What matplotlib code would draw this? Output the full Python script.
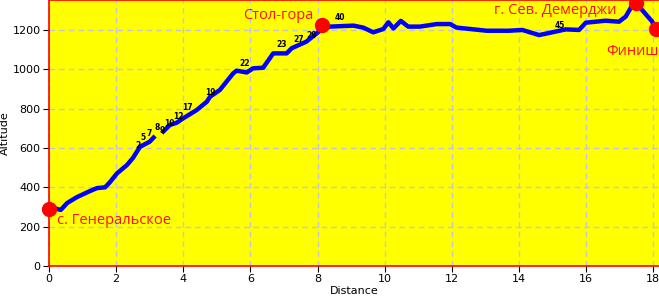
import numpy as np
import matplotlib
matplotlib.use("Agg")
import matplotlib.pyplot as plt

# Profile data (km, m)
dist = [0.0, 0.2, 0.35, 0.54, 0.83, 1.22, 1.43, 1.67, 1.82, 2.02, 2.32, 2.5, 2.71, 3.0, 3.16,
        np.nan,
        3.36, 3.6, 3.8, 4.0, 4.4, 4.7, 4.8, 5.09, 5.49, 5.59, 5.89, 6.08, 6.38, 6.68, 7.08,
        7.23, 7.67, 8.07, 8.37, 9.07, 9.36, 9.66, 9.96, 10.11, 10.26, 10.48, 10.7, 11.05,
        11.55, 11.95, 12.14, 12.54, 13.04, 13.7, 14.1, 14.6, 14.99, 15.39, 15.79, 15.99,
        16.58, 16.98, 17.18, 17.38, 17.48, 17.67, 17.97, 18.07]
alt = [290, 292, 285, 320, 350, 381, 396, 400, 427, 470, 513, 549, 606, 632, 661,
       np.nan,
       676, 717, 728, 751, 793, 835, 861, 895, 980, 993, 984, 1005, 1008, 1081, 1081,
       1107, 1141, 1196, 1217, 1222, 1212, 1188, 1205, 1239, 1208, 1246, 1217, 1217,
       1230, 1230, 1212, 1205, 1196, 1196, 1200, 1174, 1188, 1203, 1200, 1237,
       1247, 1242, 1268, 1327, 1336, 1301, 1242, 1203]

# Waypoint labels
wp_labels = ["2", "5", "7", "8", "9", "10", "12", "17", "19", "22", "23", "27", "29", "40", "45"]
wp_dist = [2.65, 2.79, 2.98, 3.22, 3.38, 3.60, 3.86, 4.12, 4.82, 5.84, 6.93, 7.45, 7.82, 8.67, 15.22]
wp_alt = [615, 651, 676, 702, 688, 722, 762, 805, 880, 1032, 1124, 1150, 1172, 1261, 1225]

# Named points
poi_names = ["с. Генеральское", "Стол-гора", "г. Сев. Демерджи", "Финиш"]
poi_dist = [0.0, 8.12, 17.48, 18.07]
poi_alt = [290, 1225, 1336, 1203]
poi_text_dist = [0.24, 5.78, 13.26, 16.6]
poi_text_alt = [229, 1276, 1301, 1093]

x_ticks = list(range(0, 19, 2))
y_ticks = list(range(0, 1201, 200))

fig = plt.figure(figsize=(6.59, 2.98), dpi=100)
ax = fig.add_axes([49/659, 32/298, 610/659, 266/298])
ax.set_facecolor("#ffff00")
ax.set_xlim(0, 610/33.57)
ax.set_ylim(0, 266/0.1967)

ax.grid(True, color="#c4c4dc", linestyle=(0, (4, 3)), linewidth=1.0)
ax.set_axisbelow(True)

ax.plot(dist, alt, color="#0000ff", linewidth=3.2, solid_capstyle="butt", zorder=3)

for lbl, d, a in zip(wp_labels, wp_dist, wp_alt):
    ax.text(d, a, lbl, fontsize=5.5, color="black", ha="center", va="center",
            fontweight="bold", zorder=4)

ax.plot(poi_dist, poi_alt, "o", color="#ff0000", markersize=10, zorder=5, clip_on=False)
for name, d, a in zip(poi_names, poi_text_dist, poi_text_alt):
    ax.text(d, a, name, fontsize=10.5, color="#ff1010", ha="left", va="center",
            family="Open Sans", zorder=6)

ax.set_xticks(x_ticks)
ax.set_yticks(y_ticks)
ax.tick_params(axis="both", labelsize=8, length=4, width=0.8, colors="black", pad=2)
for s in ["left", "bottom", "top"]:
    ax.spines[s].set_color("#ff0000")
    ax.spines[s].set_linewidth(1.2)
ax.spines["right"].set_visible(False)

ax.set_xlabel("Distance", fontsize=8, labelpad=1)
ax.set_ylabel("Altitude", fontsize=8, labelpad=2)

fig.savefig("out.png", dpi=100, facecolor="white")
